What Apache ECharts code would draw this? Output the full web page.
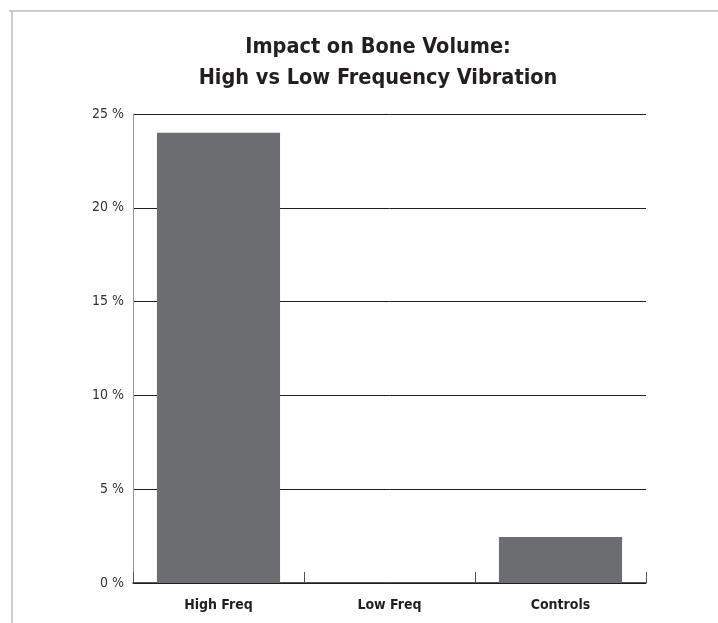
<!DOCTYPE html>
<html>
<head>
<meta charset="utf-8">
<script src="https://cdn.jsdelivr.net/npm/echarts@6/dist/echarts.min.js"></script>
<style>
html,body{margin:0;padding:0;background:#fff;}
#c{width:718px;height:623px;}
</style>
</head>
<body>
<div id="c"></div>
<script>
const categories = ['High Freq', 'Low Freq', 'Controls'];
const values = [24, 0, 2.45];
const yTicks = [0, 5, 10, 15, 20, 25];

const FONT = "'Liberation Sans Narrow', 'DejaVu Sans Condensed', 'Roboto Condensed', sans-serif";
const chart = echarts.init(document.getElementById('c'), null, {renderer: 'canvas'});
chart.setOption({
  backgroundColor: '#fff',
  animation: false,
  title: {
    text: 'Impact on Bone Volume:\nHigh vs Low Frequency Vibration',
    left: 373,
    top: 27,
    textAlign: 'center',
    textStyle: {fontFamily: FONT, fontSize: 21.5, fontWeight: 'bold', color: '#231f20', lineHeight: 31}
  },
  graphic: [
    {type: 'line', shape: {x1: 9, y1: 11, x2: 718, y2: 11}, style: {stroke: '#bdbdbd', lineWidth: 1.5}},
    {type: 'line', shape: {x1: 12, y1: 11, x2: 12, y2: 623}, style: {stroke: '#bdbdbd', lineWidth: 1.5}}
  ],
  grid: {left: 133, right: 72, top: 114, bottom: 40, containLabel: false},
  xAxis: {
    type: 'category',
    data: categories,
    axisLine: {show: true, lineStyle: {color: '#231f20', width: 1.5}},
    axisTick: {show: true, inside: true, length: 11, interval: 0, lineStyle: {color: '#555', width: 1}},
    axisLabel: {fontFamily: FONT, fontSize: 14, fontWeight: 'bold', color: '#231f20', margin: 15}
  },
  yAxis: {
    type: 'value',
    min: yTicks[0],
    max: yTicks[yTicks.length - 1],
    interval: 5,
    axisLine: {show: true, lineStyle: {color: '#999', width: 1}},
    axisTick: {show: false},
    axisLabel: {fontFamily: FONT, fontSize: 14, color: '#333', margin: 9, formatter: v => v + ' %'},
    splitLine: {show: true, lineStyle: {color: '#231f20', width: 1}}
  },
  series: [{
    type: 'bar',
    data: values,
    barCategoryGap: '28%',
    itemStyle: {color: '#6c6d70'}
  }]
});
</script>
</body>
</html>
